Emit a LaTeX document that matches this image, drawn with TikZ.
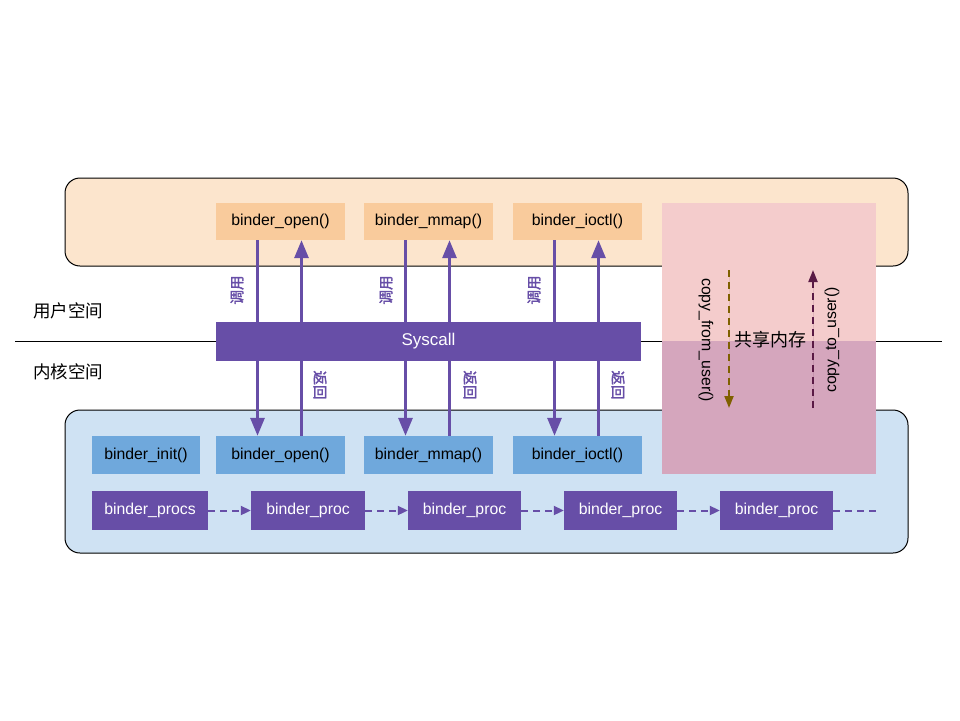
\documentclass[tikz,border=0pt]{standalone}
\usepackage{fontspec}
\setmainfont{Liberation Sans}
\newfontfamily\cjk{Noto Sans CJK SC}
\newfontfamily\cjkb[FakeBold=2]{Noto Sans CJK SC}
\usetikzlibrary{arrows.meta}
\definecolor{peach}{HTML}{FCE5CD}
\definecolor{peachnode}{HTML}{F9CB9C}
\definecolor{lblue}{HTML}{CFE2F3}
\definecolor{bnode}{HTML}{6FA8DC}
\definecolor{purp}{HTML}{674EA7}
\definecolor{pinkA}{HTML}{F4CCCC}
\definecolor{pinkB}{HTML}{D5A6BD}
\definecolor{olive}{HTML}{7F6000}
\definecolor{maroon}{HTML}{5A1A45}
\tikzset{
  fbox/.style={inner sep=0pt, minimum height=37pt, font=\fontsize{15.8}{18}\selectfont},
  unode/.style={fbox, fill=peachnode, minimum width=129pt},
  knode/.style={fbox, fill=bnode, minimum width=129pt, minimum height=38pt},
  pnode/.style={fbox, fill=purp, text=white, minimum width=114pt, minimum height=39pt},
  callarrow/.style={draw=purp, line width=3pt, -{Triangle[length=18pt,width=14pt]}},
  procarrow/.style={draw=purp, line width=2pt, dash pattern=on 7pt off 5pt, -{Triangle[length=10pt,width=9pt]}},
  copyarrow/.style={line width=2pt, dash pattern=on 7pt off 5pt, -{Triangle[length=12pt,width=9pt]}},
  vlabel/.style={text=purp, font=\cjkb\fontsize{14.5}{15}\selectfont, inner sep=0pt},
  space/.style={font=\cjk\fontsize{17.5}{20}\selectfont, anchor=west, inner sep=0pt},
  region/.style={draw=black, line width=1pt, rounded corners=15pt}
}
\begin{document}
\begin{tikzpicture}[x=1pt,y=-1pt]
\useasboundingbox (0,0) rectangle (960,720);
% regions
\path[region, fill=peach] (65,178) rectangle (908,266);
\path[region, fill=lblue] (65,410) rectangle (908,553);
\coordinate (sepL) at (15,341);
\coordinate (sepR) at (942,341);
\draw[line width=1pt] (sepL) -- (sepR);
\node[space] (us) at (33,311) {用户空间};
\node[space] (ks) at (33,372) {内核空间};
% nodes
\node[unode] (uo) at (280.5,221.5) {binder\_open()};
\node[unode] (um) at (428.5,221.5) {binder\_mmap()};
\node[unode] (uc) at (577.5,221.5) {binder\_ioctl()};
\node[knode, minimum width=108pt] (ki) at (146,455) {binder\_init()};
\node[knode] (ko) at (280.5,455) {binder\_open()};
\node[knode] (km) at (428.5,455) {binder\_mmap()};
\node[knode] (kc) at (577.5,455) {binder\_ioctl()};
% call arrows
\foreach \u/\k in {uo/ko, um/km, uc/kc}{
  \draw[callarrow] ([xshift=-23pt]\u.south) -- ([xshift=-23pt]\k.north);
  \draw[callarrow] ([xshift=21pt]\k.north) -- ([xshift=21pt]\u.south);
}
\node[vlabel, rotate=90] (c1) at (237,290) {调用};
\node[vlabel, rotate=90] (c2) at (386,290) {调用};
\node[vlabel, rotate=90] (c3) at (534,290) {调用};
\node[vlabel, rotate=-90] (r1) at (320,385) {返回};
\node[vlabel, rotate=-90] (r2) at (470,385) {返回};
\node[vlabel, rotate=-90] (r3) at (618,385) {返回};
% syscall bar
\node[fill=purp, text=white, inner sep=0pt, minimum width=425pt, minimum height=39pt,
      font=\fontsize{17}{20}\selectfont] (sys) at (428.5,341.5) {Syscall};
% proc chain
\node[pnode, minimum width=116pt] (p0) at (150,510.5) {binder\_procs};
\node[pnode] (p1) at (308,510.5) {binder\_proc};
\node[pnode, minimum width=113pt] (p2) at (464.5,510.5) {binder\_proc};
\node[pnode, minimum width=113pt] (p3) at (620.5,510.5) {binder\_proc};
\node[pnode, minimum width=113pt] (p4) at (776.5,510.5) {binder\_proc};
\coordinate (pend) at (878,510.5);
\draw[procarrow] (p0) -- (p1);
\draw[procarrow] (p1) -- (p2);
\draw[procarrow] (p2) -- (p3);
\draw[procarrow] (p3) -- (p4);
\draw[draw=purp, line width=2pt, dash pattern=on 7pt off 5pt] (p4) -- (pend);
% shared memory
\fill[pinkA] (662,203) rectangle (876,341);
\fill[pinkB] (662,341) rectangle (876,474);
\coordinate (cfT) at (729,270);
\coordinate (cfB) at (729,408);
\coordinate (ctT) at (813,270);
\coordinate (ctB) at (813,408);
\draw[copyarrow, draw=olive, fill=olive] (cfT) -- (cfB);
\draw[copyarrow, draw=maroon, fill=maroon] (ctB) -- (ctT);
\node[rotate=-90, inner sep=0pt, font=\fontsize{15.8}{18}\selectfont] (cfl) at (706,340) {copy\_from\_user()};
\node[rotate=90, inner sep=0pt, font=\fontsize{15.8}{18}\selectfont] (ctl) at (832,340) {copy\_to\_user()};
\node[font=\cjk\fontsize{18}{20}\selectfont, inner sep=0pt] (shm) at (770,340) {共享内存};
\end{tikzpicture}
\end{document}
